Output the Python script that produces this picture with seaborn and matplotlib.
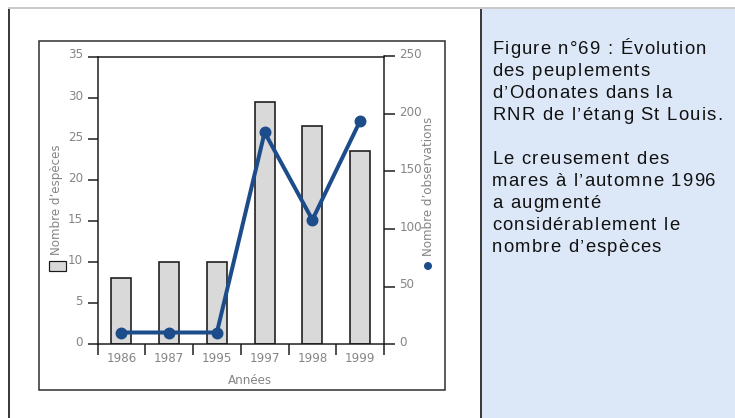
import numpy as np
import pandas as pd
import matplotlib
matplotlib.use("Agg")
import matplotlib.pyplot as plt
from matplotlib.lines import Line2D
from matplotlib.patches import Rectangle, Ellipse
from matplotlib.font_manager import FontProperties, findfont
from matplotlib.ft2font import FT2Font
from matplotlib.transforms import ScaledTranslation
import seaborn as sns

# ---- data -------------------------------------------------------------
annees = ["1986", "1987", "1995", "1997", "1998", "1999"]
nb_especes = [8, 10, 10, 29.5, 26.5, 23.5]
nb_observations = [10, 10, 10, 184, 108, 194]
ticks_especes = [0, 5, 10, 15, 20, 25, 30, 35]
ticks_observations = [0, 50, 100, 150, 200, 250]

legende_lignes = [
    "Figure n°69 : Évolution",
    "des peuplements",
    "d’Odonates dans la",
    "RNR de l’étang St Louis.",
    "",
    "Le creusement des",
    "mares à l’automne 1996",
    "a augmenté",
    "considérablement le",
    "nombre d’espèces",
]

# ---- page geometry (pixels) ------------------------------------------
W, H, DPI = 735, 418, 100
GRIS_TXT = "#858585"
NOIR = "#1a1a1a"
BLEU = "#1c4d8a"
PX = 72 / DPI  # points per pixel
TAILLE_AXES = 8.6

sns.set_theme(style="white")
plt.rcParams["font.family"] = ["DejaVu Sans"]

fig = plt.figure(figsize=(W / DPI, H / DPI), dpi=DPI)
fig.patch.set_facecolor("white")


def fx(px):
    return px / W


def fy(py):
    return 1 - py / H


def ligne(x0, y0, x1, y1, color, lw_px):
    fig.add_artist(Line2D([fx(x0), fx(x1)], [fy(y0), fy(y1)],
                          transform=fig.transFigure, color=color,
                          lw=lw_px * PX, solid_capstyle="butt"))


# page border lines and side panel
ligne(8, 8, 735, 8, "#c9c9c9", 2)
ligne(9, 9, 9, 418, "#3c3c3c", 2)
fig.add_artist(Rectangle((fx(480), fy(418)), fx(735) - fx(480), fy(9) - fy(418),
                         transform=fig.transFigure, facecolor="#dce8f8",
                         edgecolor="none"))
ligne(480.5, 9, 480.5, 418, "#3c3c3c", 2)

# chart frame
fig.add_artist(Rectangle((fx(39), fy(390)), fx(445) - fx(39), fy(41) - fy(390),
                         transform=fig.transFigure, facecolor="none",
                         edgecolor="#2a2a2a", lw=1.5 * PX))

# ---- chart ------------------------------------------------------------
df = pd.DataFrame({"annee": annees, "especes": nb_especes,
                   "observations": nb_observations})

ax = fig.add_axes([fx(97.5), fy(344), (384 - 97.5) / W, (344 - 56.5) / H])
sns.barplot(data=df, x="annee", y="especes", ax=ax, color="#d9d9d9",
            saturation=1, edgecolor=NOIR, linewidth=1.6 * PX, width=0.42)

ax2 = ax.twinx()
sns.pointplot(data=df, x="annee", y="observations", ax=ax2, color=BLEU,
              markers="o", errorbar=None, markersize=6.4, linewidth=4 * PX)

for a in (ax, ax2):
    a.set_xlim(-0.5, len(annees) - 0.5)
    a.set_xlabel("")
    a.set_ylabel("")
ax.set_ylim(0, 35)
ax2.set_ylim(0, 250)
ax2.set_zorder(ax.zorder + 1)
ax2.patch.set_visible(False)

# category boundaries carry the tick marks, year labels sit between them
ax.set_xticks(np.arange(-0.5, len(annees), 1.0))
ax.set_xticklabels([])
ax.set_xticks(np.arange(len(annees)), minor=True)
ax.set_xticklabels(annees, minor=True)
ax.tick_params(axis="x", which="major", direction="out", length=8,
               width=1.5 * PX, color=NOIR, bottom=True)
ax.tick_params(axis="x", which="minor", length=0, pad=5.5,
               labelsize=TAILLE_AXES, labelcolor=GRIS_TXT)

ax.set_yticks(ticks_especes)
ax.tick_params(axis="y", direction="out", length=7, width=1.5 * PX,
               color=NOIR, pad=3.5, labelsize=TAILLE_AXES, labelcolor=GRIS_TXT,
               left=True)
ax2.set_yticks(ticks_observations)
ax2.tick_params(axis="y", direction="out", length=8, width=1.5 * PX,
                color=NOIR, pad=3, labelsize=TAILLE_AXES, labelcolor=GRIS_TXT,
                right=True)
ax2.tick_params(axis="x", bottom=False, labelbottom=False)

for nom, sp in ax.spines.items():
    sp.set_visible(nom != "right")
    sp.set_color(NOIR)
    sp.set_linewidth(1.5 * PX)
for nom, sp in ax2.spines.items():
    sp.set_visible(nom == "right")
    sp.set_color(NOIR)
    sp.set_linewidth(1.5 * PX)

# tick labels sit a little above their ticks
decal = ScaledTranslation(0, 3 / DPI, fig.dpi_scale_trans)
for lab in ax.get_yticklabels() + ax2.get_yticklabels():
    lab.set_transform(lab.get_transform() + decal)

# axis titles with their legend keys
fig.text(fx(250), fy(380), "Années", ha="center", va="center",
         fontsize=TAILLE_AXES, color=GRIS_TXT)
fig.text(fx(56.5), fy(200), "Nombre d’espèces", rotation=90, ha="center",
         va="center", fontsize=TAILLE_AXES, color=GRIS_TXT)
fig.add_artist(Rectangle((fx(48.5), fy(271)), fx(65.5) - fx(48.5), fy(261) - fy(271),
                         transform=fig.transFigure, facecolor="#d9d9d9",
                         edgecolor=NOIR, lw=1.2 * PX))
fig.text(fx(428), fy(186), "Nombre d’observations", rotation=90, ha="center",
         va="center", fontsize=TAILLE_AXES, color=GRIS_TXT)
fig.add_artist(Ellipse((fx(428), fy(266)), 8 / W, 8 / H,
                       transform=fig.transFigure, facecolor=BLEU, edgecolor="none"))

# ---- caption text in the side panel (slightly tracked) ---------------
prop = FontProperties(family="Liberation Sans")
taille_pt = 13.3
police = FT2Font(findfont(prop))
police.set_size(taille_pt, DPI)
tracking = 1.2


def avance(ch):
    g = police.load_char(ord(ch))
    return g.linearHoriAdvance / 65536


y_base = 54
for texte in legende_lignes:
    x = 492
    for ch in texte:
        if ch != " ":
            fig.text(fx(x), fy(y_base), ch, fontproperties=prop,
                     fontsize=taille_pt, color="#111111", ha="left",
                     va="baseline")
        x += avance(ch) + tracking
    y_base += 22

fig.savefig("out.png", dpi=DPI, facecolor="white")
